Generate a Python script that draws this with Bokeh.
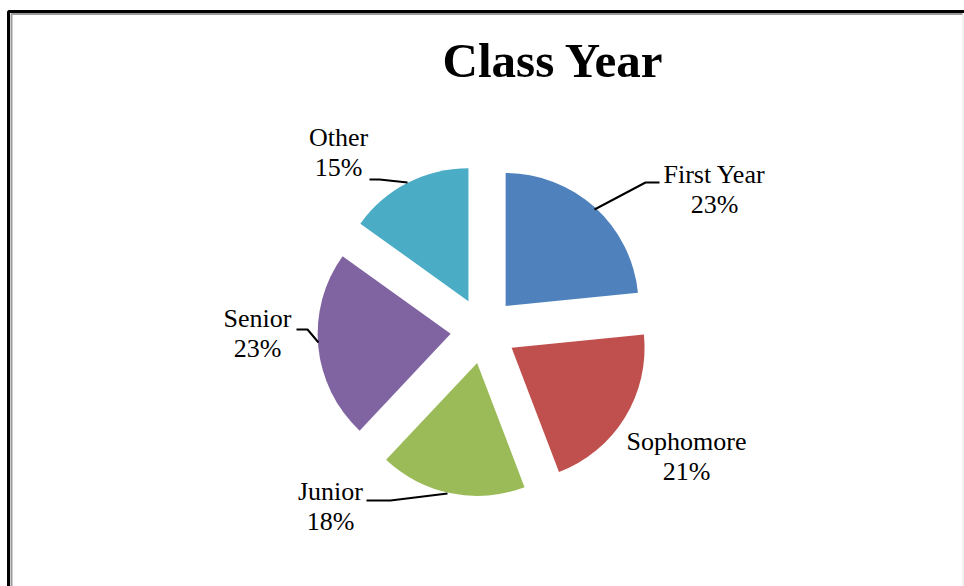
import math
from bokeh.plotting import figure
from bokeh.models import Range1d, ColumnDataSource
from bokeh.core.properties import value
from bokeh.embed import file_html
from bokeh.resources import INLINE

# ---- data ----
categories = ["First Year", "Sophomore", "Junior", "Senior", "Other"]
shares = [23.4, 20.8, 17.8, 22.9, 15.1]
colors = ["#4F81BD", "#C0504D", "#9BBB59", "#8064A2", "#4BACC6"]
title_text = "Class Year"

W, H = 964, 586
p = figure(width=W, height=H, output_backend="svg", toolbar_location=None,
           x_axis_type=None, y_axis_type=None, min_border=0,
           x_range=Range1d(0, W), y_range=Range1d(0, H))
p.xgrid.visible = False
p.ygrid.visible = False
p.outline_line_color = None
p.background_fill_color = "white"

# screen pixel (X, Y) -> data
def dx(X):
    return X
def dy(Y):
    return H - Y

# frame border
p.line([dx(8), dx(8), dx(964)], [0, dy(11), dy(11)], line_color="black", line_width=3)
p.line([dx(11), dx(11), dx(962)], [0, dy(13.5), dy(13.5)], line_color="#9a9a9a", line_width=2)
p.line([dx(962.5), dx(962.5)], [0, dy(14)], line_color="#e4e4e4", line_width=1)

# pie geometry
cx, cy = dx(483), dy(330)
radius = 133
explode = 33
total = sum(shares)
xs, ys, starts, ends = [], [], [], []
cum = 0.0
for s in shares:
    a0 = math.radians(90 - cum / total * 360)
    cum += s
    a1 = math.radians(90 - cum / total * 360)
    mid = (a0 + a1) / 2
    xs.append(cx + explode * math.cos(mid))
    ys.append(cy + explode * math.sin(mid))
    starts.append(a1)
    ends.append(a0)

src = ColumnDataSource(dict(x=xs, y=ys, start=starts, end=ends, color=colors, cat=categories))
p.wedge(x="x", y="y", radius=radius, start_angle="start", end_angle="end",
        direction="anticlock", fill_color="color", line_color=None, source=src)

# leader lines (screen pixel coordinates)
leaders = [
    [(594, 209), (645, 182), (659, 182)],
    None,
    [(366, 500), (390, 500), (447, 493)],
    [(296, 329), (307, 329), (318, 342)],
    [(369, 179), (379, 179), (407, 182)],
]
for pts in leaders:
    if pts is None:
        continue
    p.line([dx(a) for a, b in pts], [dy(b) for a, b in pts], line_color="black", line_width=2)

# labels
FS = 26
SHIFT = 0.36 * FS
label_cx = [714, 686, 330, 257, 338]
label_base = [183, 450, 500, 327, 146]
line_gap = 30
name_src = ColumnDataSource(dict(x=[dx(v) for v in label_cx],
                                 y=[dy(v - SHIFT) for v in label_base],
                                 t=categories))
pct_src = ColumnDataSource(dict(x=[dx(v) for v in label_cx],
                                y=[dy(v + line_gap - SHIFT) for v in label_base],
                                t=[f"{round(s / total * 100)}%" for s in shares]))
for s in (name_src, pct_src):
    p.text(x="x", y="y", text="t", source=s, text_font=value("Liberation Serif"),
           text_font_size=f"{FS}px", text_align="center", text_baseline="alphabetic",
           text_color="black")

TFS = 49
p.text(x=[dx(553)], y=[dy(78 - 0.36 * TFS)], text=[title_text], text_font=value("Liberation Serif"),
       text_font_size=f"{TFS}px", text_font_style="bold", text_align="center",
       text_baseline="alphabetic", text_color="black")

open("out.html", "w").write(file_html(p, INLINE))
